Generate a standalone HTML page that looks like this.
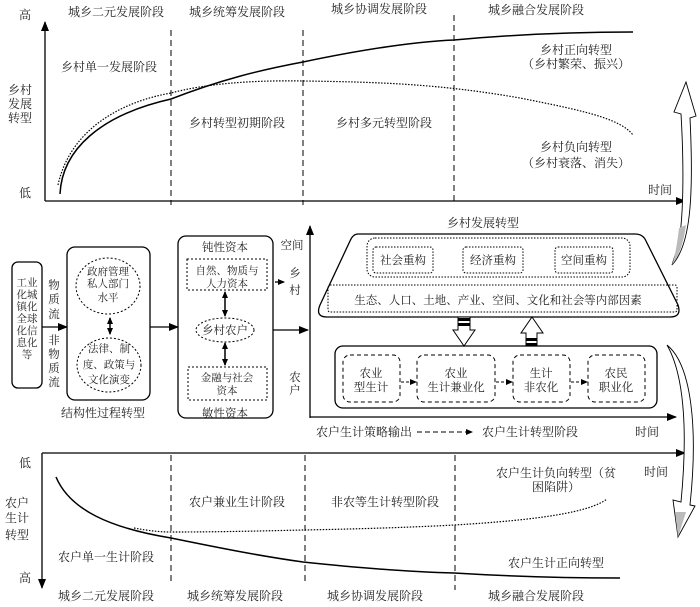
<!DOCTYPE html>
<html><head><meta charset="utf-8"><style>
html,body{margin:0;padding:0;background:#fff}
svg{display:block}
text{font-family:"Liberation Serif","Noto Serif CJK SC","Noto Sans CJK SC",serif;font-size:12px;fill:#222}
.s{font-size:11.5px}
.t{font-size:10.5px}
</style></head><body>
<svg width="700" height="607" viewBox="0 0 700 607" xmlns="http://www.w3.org/2000/svg">
<defs>
<marker id="ah" markerWidth="10" markerHeight="8" refX="9" refY="4" orient="auto" markerUnits="userSpaceOnUse"><path d="M0,0 L10,4 L0,8 Z" fill="#000"/></marker>
<marker id="ahs" markerWidth="7" markerHeight="6" refX="6" refY="3" orient="auto" markerUnits="userSpaceOnUse"><path d="M0,0 L7,3 L0,6 Z" fill="#000"/></marker>
<marker id="ahs2" markerWidth="7" markerHeight="6" refX="1" refY="3" orient="auto" markerUnits="userSpaceOnUse"><path d="M7,0 L0,3 L7,6 Z" fill="#000"/></marker>
</defs>
<g stroke="#000" fill="none">
<line x1="45" y1="201" x2="45" y2="22" stroke-width="1.3" marker-end="url(#ah)"/>
<line x1="45" y1="201" x2="685" y2="201" stroke-width="1.3" marker-end="url(#ah)"/>
<g stroke-dasharray="6,4" stroke-width="1"><line x1="171" y1="30" x2="171" y2="205"/><line x1="303" y1="30" x2="303" y2="205"/><line x1="454" y1="15" x2="454" y2="205"/></g>
<path d="M60,194 C62,150 100,115 171,99 C220,80 260,70 303,62 C360,50 410,42 454,40 C530,33 590,32 633,32" stroke-width="1.5"/>
<path d="M58,185 C70,130 120,102 171,93 C205,84 250,80 303,81 C380,82 440,84 520,98 C580,110 620,118 633,135" stroke-width="1.2" stroke-dasharray="1.5,1.5"/>
<line x1="42" y1="453" x2="685" y2="453" stroke-width="1.3" marker-end="url(#ah)"/>
<line x1="42" y1="453" x2="42" y2="588" stroke-width="1.3" marker-end="url(#ah)"/>
<g stroke-dasharray="6,4" stroke-width="1"><line x1="171" y1="455" x2="171" y2="585"/><line x1="305" y1="455" x2="305" y2="585"/><line x1="455" y1="455" x2="455" y2="590"/></g>
<path d="M56,477 C70,510 110,528 171,538 C220,548 260,556 303,562 C360,568 410,572 454,573 C520,577 580,578 620,578" stroke-width="1.5"/>
<path d="M134,528 C150,531 160,532 171,532 C220,532 260,531 303,530 C360,529 420,527 454,525 C540,520 590,512 607,499" stroke-width="1.2" stroke-dasharray="1.5,1.5"/>
<rect x="12" y="262" width="30" height="126" rx="6" stroke-width="1.3"/>
<line x1="42" y1="327" x2="67" y2="327" stroke-width="1.3" marker-end="url(#ah)"/>
<rect x="67" y="247" width="83" height="153" rx="8" stroke-width="1.3"/>
<ellipse cx="108" cy="286" rx="32" ry="28" stroke-dasharray="2,2"/>
<ellipse cx="109" cy="365" rx="32" ry="27" stroke-dasharray="2,2"/>
<line x1="110" y1="318" x2="110" y2="334" stroke-width="1.5" marker-end="url(#ahs)" marker-start="url(#ahs2)"/>
<line x1="150" y1="327" x2="178" y2="327" stroke-width="1.3" marker-end="url(#ah)"/>
<rect x="178" y="236" width="95" height="182" rx="8" stroke-width="1.3"/>
<rect x="187" y="259" width="80" height="31" stroke-dasharray="2,2"/>
<rect x="188" y="367" width="79" height="33" stroke-dasharray="2,2"/>
<ellipse cx="225" cy="330" rx="29" ry="12" stroke-dasharray="2,2"/>
<line x1="225" y1="292" x2="225" y2="316" stroke-width="1.5" marker-end="url(#ahs)" marker-start="url(#ahs2)"/>
<line x1="225" y1="343" x2="225" y2="365" stroke-width="1.5" marker-end="url(#ahs)" marker-start="url(#ahs2)"/>
<line x1="273" y1="330" x2="308" y2="330" stroke-width="1.3" marker-end="url(#ah)"/>
<line x1="275" y1="282" x2="284" y2="282" stroke-width="1.3" marker-end="url(#ahs)"/>
<line x1="310" y1="418" x2="310" y2="226" stroke-width="1.3" marker-end="url(#ah)"/>
<line x1="310" y1="417" x2="676" y2="417" stroke-width="1.3" marker-end="url(#ah)"/>
<line x1="417" y1="432" x2="472" y2="432" stroke-dasharray="5,3" marker-end="url(#ahs)"/>
<path d="M358,234 L635,234 Q643,234 646,241 L678,305 Q682,317 670,317 L327,317 Q315,317 320,305 L350,241 Q353,234 358,234 Z" stroke-width="1.3"/>
<rect x="367" y="238" width="263" height="39" rx="8" stroke-dasharray="1.5,1.5"/>
<rect x="373" y="247" width="60" height="26" rx="3" stroke-dasharray="1.5,1.5"/>
<rect x="463" y="247" width="60" height="26" rx="3" stroke-dasharray="1.5,1.5"/>
<rect x="555" y="247" width="58" height="26" rx="3" stroke-dasharray="1.5,1.5"/>
<rect x="328" y="285" width="349" height="27" rx="2" stroke-dasharray="1.5,1.5"/>
<path d="M458,317 L470,317 L470,330 L475,330 L464,346 L453,330 L458,330 Z" fill="#fff"/>
<rect x="458" y="318" width="12" height="3" fill="#000" stroke="none"/><rect x="458" y="323" width="12" height="3" fill="#000" stroke="none"/>
<path d="M532,317 L543,333 L537,333 L537,346 L526,346 L526,333 L521,333 Z" fill="#fff"/>
<rect x="526" y="338" width="11" height="3" fill="#000" stroke="none"/><rect x="526" y="343" width="11" height="3" fill="#000" stroke="none"/>
<rect x="335" y="346" width="322" height="62" rx="8" stroke-width="1.3"/>
<g stroke-dasharray="4,3"><rect x="343" y="355" width="57" height="47" rx="7"/><rect x="417" y="355" width="78" height="47" rx="7"/><rect x="513" y="355" width="57" height="47" rx="7"/><rect x="588" y="355" width="57" height="47" rx="7"/></g>
<g stroke-dasharray="3,2"><line x1="401" y1="382" x2="416" y2="382" marker-end="url(#ahs)"/><line x1="496" y1="382" x2="512" y2="382" marker-end="url(#ahs)"/><line x1="571" y1="382" x2="587" y2="382" marker-end="url(#ahs)"/></g>
<!-- curved side arrows -->
<path d="M672,265 C690,246 694,200 690,118 L696,116 L686,82 L674,112 L681,114 C684,165 684,225 677,250 C674,258 673,262 672,265 Z" fill="#fff" stroke-width="0.9"/>
<path d="M672,265 C680,255 684,240 686,225 L679,228 C677,245 675,256 672,265 Z" fill="#bbb" stroke="none"/>
<path d="M667,345 C692,365 698,430 690,505 L695,506 L678,537 L673,500 L681,502 C687,440 686,378 667,345 Z" fill="#fff" stroke-width="0.9"/>
<path d="M678,537 L675,512 L686,512 Z" fill="#bbb" stroke="none"/>
</g>
<g text-anchor="middle">
<text x="116" y="16">城乡二元发展阶段</text><text x="237" y="16">城乡统筹发展阶段</text><text x="379" y="13">城乡协调发展阶段</text><text x="536" y="14">城乡融合发展阶段</text>
<text x="25" y="19">高</text><text x="25" y="197">低</text>
<text x="20" y="94">乡村</text><text x="20" y="108">发展</text><text x="20" y="122">转型</text>
<text x="109" y="71">乡村单一发展阶段</text>
<text x="576" y="54">乡村正向转型</text><text x="576" y="68">（乡村繁荣、振兴）</text>
<text x="237" y="127">乡村转型初期阶段</text><text x="384" y="127">乡村多元转型阶段</text>
<text x="576" y="151">乡村负向转型</text><text x="576" y="167">（乡村衰落、消失）</text>
<text x="660" y="194">时间</text>
<text x="483" y="227">乡村发展转型</text>
<text x="27" y="286" class="t">工业</text><text x="27" y="298" class="t">化城</text><text x="27" y="310" class="t">镇化</text><text x="27" y="322" class="t">全球</text><text x="27" y="334" class="t">化信</text><text x="27" y="346" class="t">息化</text><text x="27" y="358" class="t">等</text>
<text x="54" y="289" class="s">物</text><text x="54" y="303" class="s">质</text><text x="54" y="318" class="s">流</text>
<text x="54" y="344" class="s">非</text><text x="54" y="358" class="s">物</text><text x="54" y="372" class="s">质</text><text x="54" y="386" class="s">流</text>
<text x="108" y="275" class="t">政府管理</text><text x="108" y="287" class="t">私人部门</text><text x="108" y="301" class="t">水平</text>
<text x="109" y="352" class="t">法律、制</text><text x="109" y="368" class="t">度、政策与</text><text x="109" y="383" class="t">文化演变</text>
<text x="103" y="417">结构性过程转型</text>
<text x="225" y="251" class="s">钝性资本</text>
<text x="227" y="274" class="t">自然、物质与</text><text x="227" y="287" class="t">人力资本</text>
<text x="225" y="334" class="s">乡村农户</text>
<text x="227" y="381" class="t">金融与社会</text><text x="227" y="394" class="t">资本</text>
<text x="225" y="417" class="s">敏性资本</text>
<text x="292" y="249" class="s">空间</text><text x="295" y="277" class="s">乡</text><text x="295" y="294" class="s">村</text>
<text x="295" y="381" class="s">农</text><text x="295" y="394" class="s">户</text>
<text x="403" y="264" class="s">社会重构</text><text x="493" y="264" class="s">经济重构</text><text x="584" y="264" class="s">空间重构</text>
<text x="498" y="304" class="s">生态、人口、土地、产业、空间、文化和社会等内部因素</text>
<text x="371" y="377" class="s">农业</text><text x="371" y="391" class="s">型生计</text>
<text x="456" y="377" class="s">农业</text><text x="456" y="391" class="s">生计兼业化</text>
<text x="541" y="377" class="s">生计</text><text x="541" y="391" class="s">非农化</text>
<text x="616" y="377" class="s">农民</text><text x="616" y="391" class="s">职业化</text>
<text x="364" y="436">农户生计策略输出</text><text x="530" y="436">农户生计转型阶段</text><text x="647" y="436">时间</text>
<text x="25" y="467">低</text><text x="656" y="476">时间</text>
<text x="17" y="507">农户</text><text x="17" y="522">生计</text><text x="17" y="539">转型</text>
<text x="25" y="582">高</text>
<text x="556" y="477">农户生计负向转型（贫</text><text x="556" y="491">困陷阱）</text>
<text x="237" y="506">农户兼业生计阶段</text><text x="385" y="506">非农等生计转型阶段</text>
<text x="106" y="561">农户单一生计阶段</text><text x="556" y="567">农户生计正向转型</text>
<text x="106" y="600">城乡二元发展阶段</text><text x="235" y="600">城乡统筹发展阶段</text><text x="375" y="600">城乡协调发展阶段</text><text x="536" y="600">城乡融合发展阶段</text>
</g>
</svg>
</body></html>
